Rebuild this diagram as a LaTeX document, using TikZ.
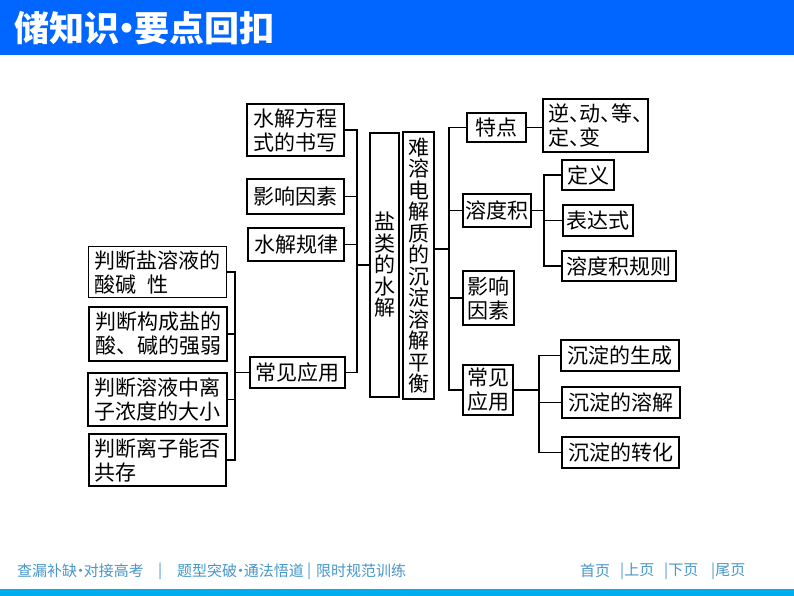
\documentclass[tikz,border=0pt]{standalone}
\usepackage{fontspec}
\setmainfont{Noto Sans CJK SC}
\definecolor{kopfblau}{RGB}{0,102,255}
\definecolor{fussblau}{RGB}{0,174,239}
\definecolor{fusstext}{RGB}{70,150,200}
\newcommand{\dun}{\makebox[0.5em][l]{、}}
\newcommand{\punkt}{\makebox[0.45em]{•}}
\tikzset{
	kasten/.style={draw, line width=1.3pt, inner sep=1pt, align=left,
	font=\fontsize{21}{24}\selectfont},
	senkrecht/.style={draw, line width=1.3pt, inner sep=1pt, align=center,
	font=\fontsize{21}{21.5}\selectfont},
	linie/.style={line width=1.3pt},
	fuss/.style={anchor=west, inner sep=0pt, text=fusstext,
	font=\fontsize{15}{15}\selectfont},
}
\begin{document}
\begin{tikzpicture}[x=1pt, y=-1pt]
	\useasboundingbox (0,0) rectangle (794,596);
	% Kopfzeile
	\fill[kopfblau] (0,0) rectangle (794,55);
	\node[anchor=west, inner sep=0pt, text=white,
	font=\fontsize{35}{35}\selectfont\bfseries] (titel) at (14,28) {储知识\punkt 要点回扣};
	% Fusszeile
	\fill[fussblau] (0,589) rectangle (794,596);
	\node[fuss] (f1) at (17,571) {查漏补缺\punkt 对接高考};
	\node[fuss] (f2) at (158,571) {|};
	\node[fuss] (f3) at (177,571) {题型突破\punkt 通法悟道};
	\node[fuss] (f4) at (307,571) {|};
	\node[fuss] (f5) at (316,571) {限时规范训练};
	\node[fuss] (f6) at (580,571) {首页};
	\node[fuss] (f7) at (620,571) {|上页};
	\node[fuss] (f8) at (664,571) {|下页};
	\node[fuss] (f9) at (711,571) {|尾页};

	% Hilfspunkte fuer die Klammern
	\coordinate (busL) at (235,0);
	\coordinate (busM) at (357,0);
	\coordinate (busR) at (449,0);
	\coordinate (busK) at (544,0);
	\coordinate (busC) at (539,0);

	% Anwendungen links
	\node[kasten, minimum width=138, minimum height=51] (jd1) at (157.5,272)
	{判断盐溶液的\\酸碱\hspace{0.5em}性};
	\node[kasten, minimum width=138, minimum height=54] (jd2) at (158,334)
	{判断构成盐的\\酸、碱的强弱};
	\node[kasten, minimum width=139, minimum height=53] (jd3) at (157.5,399.5)
	{判断溶液中离\\子浓度的大小};
	\node[kasten, minimum width=137, minimum height=52] (jd4) at (157.5,460)
	{判断离子能否\\共存};

	% Salzhydrolyse
	\node[kasten, minimum width=97, minimum height=52] (fc) at (295.5,130)
	{水解方程\\式的书写};
	\node[kasten, minimum width=97, minimum height=35] (yx) at (295.5,196.5)
	{影响因素};
	\node[kasten, minimum width=96, minimum height=33] (gl) at (296,244.5)
	{水解规律};
	\node[kasten, minimum width=95, minimum height=31] (yy) at (297.5,372.5)
	{常见应用};
	\node[senkrecht, minimum width=29, minimum height=264] (sl) at (384.5,265)
	{盐\\类\\的\\水\\解};

	% Loesungsgleichgewicht
	\node[senkrecht, minimum width=31, minimum height=267] (nr) at (418.5,265.5)
	{难\\溶\\电\\解\\质\\的\\沉\\淀\\溶\\解\\平\\衡};
	\node[kasten, minimum width=59, minimum height=29] (td) at (496.5,127.5)
	{特点};
	\node[kasten, minimum width=105, minimum height=53] (nd) at (595.5,125.5)
	{逆\dun 动\dun 等\dun\\定\dun 变};
	\node[kasten, minimum width=68, minimum height=33] (rdj) at (497,210.5)
	{溶度积};
	\node[kasten, minimum width=52, minimum height=30] (dy) at (588,175)
	{定义};
	\node[kasten, minimum width=70, minimum height=31] (bd) at (598,220.5)
	{表达式};
	\node[kasten, minimum width=114, minimum height=30] (gz) at (619,266)
	{溶度积规则};
	\node[kasten, minimum width=51, minimum height=54] (ys) at (488.5,298)
	{影响\\因素};
	\node[kasten, minimum width=50, minimum height=50] (cy) at (488,390)
	{常见\\应用};
	\node[kasten, minimum width=118, minimum height=31] (sc) at (620,355.5)
	{沉淀的生成};
	\node[kasten, minimum width=118, minimum height=31] (rj) at (621,402.5)
	{沉淀的溶解};
	\node[kasten, minimum width=117, minimum height=31] (zh) at (620.5,452.5)
	{沉淀的转化};

	% Verbindungen
	\foreach \k in {jd1,jd2,jd3,jd4}
		\draw[linie] (\k.east) -- (\k.east -| busL) |- (yy.west);
	\foreach \k in {fc,yx,gl,yy}
		\draw[linie] (\k.east) -- (\k.east -| busM) |- (sl.west);
	\foreach \k in {td,rdj,ys,cy}
		\draw[linie] ([yshift=16.5pt]nr.east) -| (busR |- \k.west) -- (\k.west);
	\draw[linie] (td.east) -- (td.east -| nd.west);
	\foreach \k in {dy,bd,gz}
		\draw[linie] (rdj.east) -| (busK |- \k.west) -- (\k.west);
	\foreach \k in {sc,rj,zh}
		\draw[linie] (cy.east) -| (busC |- \k.west) -- (\k.west);
\end{tikzpicture}
\end{document}
